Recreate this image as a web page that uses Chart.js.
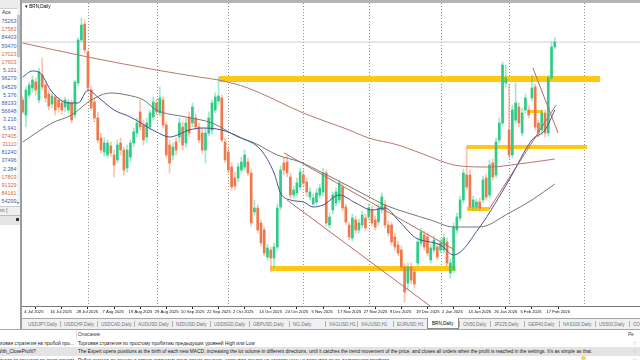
<!DOCTYPE html>
<html>
<head>
<meta charset="utf-8">
<title>BRN,Daily</title>
<script src="https://cdn.jsdelivr.net/npm/chart.js@4.4.1/dist/chart.umd.min.js"></script>
<style>
  body { margin:0; width:640px; height:360px; overflow:hidden; position:relative; background:#f0f0f0; font-family:"Liberation Sans", Arial, sans-serif; color:#222; }
  .a { position:absolute; white-space:nowrap; }
  #mw { left:0; top:0; width:20px; height:329px; background:#fff; overflow:hidden; font-size:5.4px; }
  #split { left:20px; top:0; width:2px; height:329px; background:#9c9c9c; }
  #frame { left:22px; top:0; width:618px; height:3px; background:#b4b4b4; }
  #chartBox { left:22px; top:3px; width:618px; height:315px; background:#fff; }
  #tabs { left:22px; top:318px; width:618px; height:11px; background:#f0f0f0; border-top:1px solid #a8a8a8; box-sizing:border-box; font-size:4.6px; color:#6a7584; }
  #panel { left:0; top:329px; width:640px; height:31px; background:#fff; border-top:1px solid #a8a8a8; box-sizing:border-box; font-size:4.85px; overflow:hidden; }
</style>
</head>
<body>
<div id="mw" class="a"></div>
<div id="split" class="a"></div>
<div id="frame" class="a"></div>
<div id="chartBox" class="a">
  <canvas id="chart" width="618" height="315"></canvas>
  <div class="a" style="left:3px;top:1px;font-size:4.6px;color:#000;">&#9662; BRN,Daily</div>
</div>
<div id="tabs" class="a"></div>
<div id="panel" class="a"></div>

<script>
// ---- chart data (BRN, Daily) ----
var dates = ['4 Jul 2025', '16 Jul 2025', '28 Jul 2025', '7 Aug 2025', '19 Aug 2025', '29 Aug 2025', '10 Sep 2025',
    '22 Sep 2025', '2 Oct 2025', '14 Oct 2025', '24 Oct 2025', '5 Nov 2025', '17 Nov 2025', '27 Nov 2025',
    '9 Dec 2025', '19 Dec 2025', '2 Jan 2026', '14 Jan 2026', '26 Jan 2026', '5 Feb 2026', '17 Feb 2026'];
var dateBars = [0, 8, 16, 24, 32, 40, 48, 56, 64, 72, 80, 88, 96, 104, 112, 120, 128, 136, 144, 152, 160];
var monthBars = [20, 41, 63, 86, 106, 128, 149, 172];

var opens = [69.50,68.75,69.75,70.10,70.40,69.50,70.75,70.25,69.80,69.30,69.65,69.50,69.35,69.15,69.00,69.35,68.75,70.35,72.50,73.30,
    71.90,70.00,69.40,68.60,67.60,66.90,66.75,67.20,66.75,66.50,67.35,67.00,66.10,66.65,67.35,67.85,68.90,68.25,67.65,68.15,
    68.65,69.35,68.85,69.50,68.25,67.25,66.75,67.40,67.65,68.15,67.35,68.65,68.35,68.60,68.15,67.85,67.00,67.85,68.00,69.00,
    69.45,69.60,67.40,66.90,66.15,65.60,65.60,66.00,66.15,66.40,65.85,63.90,64.10,63.35,63.00,61.65,62.00,61.60,62.15,64.15,
    66.35,66.40,65.65,64.75,64.85,65.15,65.75,65.40,64.65,64.30,64.40,64.75,64.90,65.85,63.25,64.00,64.35,64.50,65.15,64.15,
    63.25,62.60,63.50,63.00,63.25,63.60,63.65,64.00,63.50,63.40,64.00,64.25,63.25,63.25,62.65,62.25,62.00,61.15,60.35,61.15,
    60.90,61.35,62.35,62.75,62.65,61.50,62.00,62.15,62.00,62.00,62.40,60.85,61.00,63.00,63.60,64.50,65.75,65.75,64.15,64.15,
    64.40,64.50,65.60,64.75,66.35,65.75,67.50,68.35,70.35,68.00,66.75,68.50,69.15,67.85,69.00,69.00,69.60,70.15,68.35,68.00,
    68.85,67.85,70.60,72.15];
var highs = [69.65,70.15,70.40,70.70,70.60,71.10,71.60,70.40,70.00,69.85,69.75,69.60,69.50,69.65,69.55,69.50,70.50,72.60,73.60,73.50,
    72.00,70.20,69.60,68.90,67.85,67.60,67.50,67.40,67.00,67.50,67.60,67.15,67.25,67.50,68.10,68.60,69.50,68.50,68.60,69.00,
    69.65,69.55,70.15,69.65,68.40,67.50,67.35,67.65,68.60,68.40,68.60,68.90,69.35,68.80,68.35,68.10,68.10,68.90,69.50,69.85,
    70.65,69.75,67.60,67.10,66.40,65.90,66.35,66.65,67.00,66.60,66.00,64.50,64.25,63.50,63.15,62.30,62.15,62.35,64.30,66.20,
    66.60,66.70,65.85,65.20,65.60,66.10,66.00,65.60,65.10,64.80,65.05,65.30,66.10,66.00,63.85,64.90,65.10,65.50,65.35,64.30,
    63.40,63.80,63.70,63.55,63.95,63.80,64.30,64.20,63.70,64.30,64.85,64.50,63.45,63.40,62.85,62.45,62.20,61.30,61.35,61.35,
    61.10,62.60,63.10,62.95,62.85,62.30,62.70,62.35,62.55,62.80,62.60,61.55,63.35,63.85,64.70,66.05,67.20,66.00,64.70,64.55,
    64.60,65.70,65.80,66.50,66.55,67.60,68.60,71.40,71.25,70.30,69.25,70.35,69.35,69.10,69.80,69.20,70.75,70.30,68.50,69.00,
    69.00,70.75,72.40,72.65];
var lows = [68.80,68.15,69.60,69.90,69.75,69.35,70.00,69.40,69.00,69.10,68.75,68.90,68.80,68.90,68.85,68.35,68.60,70.20,72.40,71.85,
    69.90,69.00,68.40,67.35,66.85,66.70,66.60,66.65,65.65,66.35,66.75,65.75,65.90,66.40,67.15,67.65,68.00,67.25,67.40,68.00,
    68.50,68.75,68.70,68.10,66.60,65.85,66.50,66.75,67.40,67.00,67.15,67.65,68.15,68.00,67.35,66.85,66.35,67.70,67.80,68.85,
    69.30,67.40,66.35,65.85,65.00,65.00,65.40,65.85,66.00,65.70,63.20,63.75,62.85,62.20,61.70,61.50,60.90,61.10,62.00,64.00,
    65.75,65.65,64.60,64.60,64.70,65.00,65.15,64.70,64.50,64.20,64.25,64.60,64.70,63.20,63.10,63.80,64.20,64.35,63.95,63.25,
    62.50,62.45,62.85,62.85,63.10,62.95,63.50,63.20,63.00,63.25,63.85,63.10,62.70,62.25,62.00,61.70,61.00,59.40,60.00,60.30,
    60.10,61.20,62.20,62.00,61.70,61.35,61.85,61.50,61.85,61.85,61.20,60.60,60.85,62.85,63.45,64.35,65.00,64.00,63.95,64.00,
    63.95,64.35,64.50,64.60,65.50,65.60,67.35,68.20,70.15,66.60,66.60,68.35,68.15,67.70,68.85,68.60,69.45,68.00,67.65,67.75,
    67.65,67.70,70.50,72.05];
var closes = [68.90,70.00,70.25,70.50,70.00,70.90,70.15,69.60,69.20,69.70,69.00,69.15,69.00,69.50,69.40,68.50,70.40,72.50,73.25,72.00,
    70.10,69.10,68.60,67.50,67.00,67.35,67.35,66.85,66.25,67.25,67.00,66.00,67.00,67.35,67.90,68.35,68.15,67.50,68.35,68.85,
    69.40,68.90,69.60,68.25,66.75,66.35,67.15,67.00,68.35,67.25,68.35,67.85,69.15,68.15,67.50,67.00,67.85,68.60,69.35,69.65,
    69.70,67.50,66.50,66.00,65.15,65.20,66.15,66.40,66.75,65.85,63.35,64.10,63.00,62.35,61.85,62.10,61.60,62.15,64.10,66.00,
    66.00,65.85,64.75,65.00,65.35,65.90,65.35,64.90,64.90,64.60,64.85,65.10,65.85,63.35,63.65,64.75,64.90,65.35,64.10,63.40,
    62.65,63.60,63.00,63.35,63.75,63.10,64.10,63.35,63.15,64.10,64.65,63.25,62.85,62.40,62.15,61.85,61.15,59.90,61.15,60.50,
    60.30,62.40,62.90,62.15,61.85,62.10,62.50,61.65,62.35,62.60,61.35,61.35,63.15,63.65,64.50,65.85,65.15,64.15,64.50,64.40,
    64.10,65.50,64.65,66.25,65.65,67.40,68.35,71.25,70.60,66.75,69.00,69.35,68.35,68.85,69.60,68.75,70.10,68.15,67.85,68.85,
    67.85,70.60,72.15,72.40];

// moving averages, read at sample bars
var maSlowBars = [0, 20, 41, 54, 60, 69, 86, 100, 106, 115, 121, 134, 143, 152, 163];
var maSlow = [72.35, 71.65, 71.0, 70.65, 70.5, 70.1, 68.85, 68.0, 67.6, 67.25, 66.9, 66.2, 66.15, 66.3, 66.55];
var maFastBars = [0, 3, 5, 9, 14, 17, 20, 23, 28, 33, 41, 45, 51, 55, 61, 67, 73, 77, 79, 82, 86, 89, 92, 97,
    102, 107, 111, 115, 120, 122, 128, 132, 140, 149, 156, 160, 163];
var maFast = [70.65, 70.95, 70.9, 69.9, 69.35, 69.35, 70.0, 69.65, 69.0, 68.65, 67.9, 67.65, 68.0, 68.1, 68.0, 67.6,
    67.0, 65.85, 64.85, 64.5, 64.4, 64.15, 64.25, 64.75, 64.35, 64.0, 64.1, 63.5, 62.65, 62.5, 62.25, 61.75, 63.15,
    65.5, 67.5, 68.0, 69.0];
var maMidBars = [0, 9, 15, 21, 27, 32, 37, 41, 50, 58, 66, 71, 78, 85, 92, 98, 105, 111, 118, 125, 132, 140, 149, 156, 163];
var maMid = [67.4, 68.35, 68.75, 69.5, 69.85, 69.75, 69.5, 69.0, 68.65, 68.35, 67.65, 67.35, 66.75, 66.4, 65.85,
    65.35, 64.75, 64.25, 63.85, 63.5, 63.15, 63.15, 63.85, 64.5, 65.3];

// drawn objects: [fromBar, toBar, upper price, lower price]
var zones = [[60.2, 176.9, 70.7, 70.4], [136.1, 172.9, 67.25, 67.05], [136.1, 142.9, 64.15, 63.95],
    [76, 132.7, 61.2, 60.95], [154.8, 159.4, 69.0, 68.85]];
// trend lines: [bar1, price1, bar2, price2]
var trendLines = [[80.1, 66.85, 132.4, 62.0], [81, 64.5, 124.8, 59.2], [142.9, 64.05, 163.4, 69.25], [156.3, 71.1, 164, 67.85]];

var UP = '#2fcb88', DOWN = '#f0794c';

// ---- surrounding terminal text ----
var mwRows = [['75263','b'],['17583','r'],['84403','b'],['59470','b'],['17023','r'],['17603','r'],['5.101','b'],['96279','b'],
    ['64529','b'],['5.376','b'],['88193','b'],['56648','b'],['3.216','b'],['5.941','b'],['37405','r'],['31110','r'],
    ['81240','b'],['37496','b'],['2.384','b'],['17803','r'],['91329','r'],['84161','r'],['54299','b']];
var tabs = [['USDJPY,Daily',28],['USDCHF,Daily',64],['USDCAD,Daily',101],['AUDUSD,Daily',138],['NZDUSD,Daily',176],
    ['USDSGD,Daily',214],['GBPUSD,Daily',253],['NG,Daily',293],['XAGUSD,H1',329],['XAUUSD,H1',361],['EURUSD,H1',397],
    ['BRN,Daily',432],['CN50,Daily',463],['JP225,Daily',494],['GER40,Daily',528],['NAS100,Daily',563],['US500,Daily',599],['CO',633]];

function buildPanels() {
    var mw = document.getElementById('mw');
    var h = '<div class="a" style="left:0;top:0;width:20px;height:8px;background:#ececec;border-bottom:1px solid #d0d0d0"></div>';
    h += '<div class="a" style="left:2px;top:9px;color:#333">Аск</div>';
    h += '<div class="a" style="left:17px;top:8px;width:3px;height:197px;background:#f2f2f2"></div>';
    h += '<div class="a" style="left:17px;top:15px;width:3px;height:42px;background:#c6c6c6"></div>';
    for (var i = 0; i < mwRows.length; i++) {
        var c = mwRows[i][1] === 'b' ? '#3d62ad' : '#d2693f';
        h += '<div class="a" style="right:3.5px;top:' + (18 + i * 8.2) + 'px;color:' + c + '">' + mwRows[i][0] + '</div>';
    }
    h += '<div class="a" style="left:16.5px;top:200px;font-size:4px;color:#555">&#9662;</div>';
    h += '<div class="a" style="left:0;top:206px;width:20px;height:8px;background:#f0f0f0;border-top:1px solid #ccc"></div>';
    h += '<div class="a" style="left:0;top:207px;color:#555">m |</div>';
    h += '<div class="a" style="left:0;top:215px;width:20px;height:9px;background:#e4e4e4;border-top:1px solid #bbb"></div>';
    h += '<div class="a" style="left:16px;top:218px;width:3px;height:3px;background:#333"></div>';
    mw.innerHTML = h;

    var t = document.getElementById('tabs');
    var th = '';
    for (var j = 0; j < tabs.length; j++) {
        var x = tabs[j][1] - 22;
        if (j > 0) th += '<div class="a" style="left:' + (x - 4) + 'px;top:2px;width:1px;height:6px;background:#b0b0b0"></div>';
        if (tabs[j][0] === 'BRN,Daily') {
            th += '<div class="a" style="left:' + (x - 5) + 'px;top:-1px;width:30px;height:10px;background:#fff;border:1px solid #8a8a8a;border-top:none"></div>';
            th += '<div class="a" style="left:' + x + 'px;top:2px;color:#000">' + tabs[j][0] + '</div>';
        } else {
            th += '<div class="a" style="left:' + x + 'px;top:2.5px">' + tabs[j][0] + '</div>';
        }
    }
    t.innerHTML = th;

    var p = document.getElementById('panel');
    var ph = '';
    ph += '<div class="a" style="left:76px;top:0;width:1px;height:9px;background:#e0e0e0"></div>';
    ph += '<div class="a" style="left:78px;top:2px;color:#444">Описание</div>';
    ph += '<div class="a" style="left:628px;top:2px;color:#444">Ре</div>';
    ph += '<div class="a" style="left:0;top:17px;width:640px;height:8.5px;background:#e4e4e4"></div>';
    var left = ['Торговая стратегия на пробой про...', 'With_CloseProfit?', 'Стратегия за трендом по скользящим'];
    var right = ['Торговая стратегия по простому пробитию предыдущих уровней High или Low',
        'The Expert opens positions at the birth of each new MACD, increasing the lot volume in different directions, until it catches the trend movement of the price, and closes all orders when the profit is reached in the settings. It\'s as simple as that.',
        'Робот торгует по тренду с использованием скользящих средних, открывая сделки на откатах цены и закрывая их по достижении профита'];
    var ys = [10.5, 19, 27.5];
    for (var k = 0; k < 3; k++) {
        ph += '<div class="a" style="left:0;top:' + ys[k] + 'px;width:75px;height:7px;overflow:hidden">' +
              '<div class="a" style="' + (k === 1 ? 'left:-3px' : 'right:1px') + ';top:0">' + left[k] + '</div></div>';
        ph += '<div class="a" style="left:78px;top:' + ys[k] + 'px">' + right[k] + '</div>';
        ph += '<div class="a" style="left:632px;top:' + (ys[k] - 1) + 'px;font-size:5.5px;color:#b8b8b8;font-family:\'DejaVu Sans\'">&#9734;</div>';
    }
    ph += '<div class="a" style="left:581px;top:26px;width:5px;height:4px;border-radius:50%;background:#f6d54a"></div>';
    p.innerHTML = ph;
}

// period separators and rectangles drawn through the scales
var objectsPlugin = {
    id: 'objects',
    beforeDatasetsDraw: function(chart) {
        var ctx = chart.ctx, a = chart.chartArea, xs = chart.scales.x, ys = chart.scales.y;
        ctx.save();
        ctx.beginPath();
        ctx.rect(a.left, a.top, a.right - a.left, a.bottom - a.top);
        ctx.clip();
        ctx.strokeStyle = '#8e8e8e';
        ctx.lineWidth = 1;
        ctx.setLineDash([1, 2]);
        monthBars.forEach(function(b) {
            var px = Math.round(xs.getPixelForValue(b)) + 0.5;
            ctx.beginPath();
            ctx.moveTo(px, a.top);
            ctx.lineTo(px, a.bottom);
            ctx.stroke();
        });
        ctx.setLineDash([]);
        ctx.fillStyle = '#ffc812';
        zones.forEach(function(z) {
            var x0 = xs.getPixelForValue(z[0]), x1 = xs.getPixelForValue(z[1]);
            var y0 = ys.getPixelForValue(z[2]), y1 = ys.getPixelForValue(z[3]);
            ctx.fillRect(x0, y0, x1 - x0, y1 - y0);
        });
        ctx.restore();
    }
};

function pts(bars, vals) {
    return bars.map(function(b, i) { return {x: b, y: vals[i]}; });
}

function displayChart() {
    var ctx = document.getElementById('chart').getContext('2d');
    var wicks = [], bodies = [];
    for (var i = 0; i < opens.length; i++) {
        wicks.push({x: i, y: [lows[i], highs[i]]});
        bodies.push({x: i, y: [opens[i], closes[i]]});
    }
    var candleColor = function(alpha) {
        return function(c) {
            var up = closes[c.dataIndex] >= opens[c.dataIndex];
            return alpha ? (up ? 'rgba(47,203,136,0.45)' : 'rgba(240,121,76,0.45)') : (up ? UP : DOWN);
        };
    };
    var datasets = [
        {type: 'line', data: pts(maSlowBars, maSlow), borderColor: '#b8776c', order: 0},
        {type: 'line', data: pts(maFastBars, maFast), borderColor: '#44548f', order: 0},
        {type: 'line', data: pts(maMidBars, maMid), borderColor: '#6f7a70', order: 0}
    ];
    trendLines.forEach(function(t) {
        datasets.push({type: 'line', data: [{x: t[0], y: t[1]}, {x: t[2], y: t[3]}], borderColor: '#b86a60', tension: 0, order: 0});
    });
    datasets.push({type: 'bar', data: bodies, backgroundColor: candleColor(false), barThickness: 2, grouped: false, order: 1});
    datasets.push({type: 'bar', data: wicks, backgroundColor: candleColor(true), barThickness: 1, grouped: false, order: 2});
    datasets.push({type: 'line', data: [{x: -0.2, y: closes[closes.length - 1]}, {x: 189.1, y: closes[closes.length - 1]}],
        borderColor: '#cfcfcf', tension: 0, order: 3});

    new Chart(ctx, {
        type: 'bar',
        data: {datasets: datasets},
        options: {
            responsive: false,
            animation: false,
            devicePixelRatio: 1,
            events: [],
            layout: {padding: 0},
            elements: {
                line: {borderWidth: 1, tension: 0.4, cubicInterpolationMode: 'monotone'},
                point: {radius: 0}
            },
            plugins: {legend: {display: false}, tooltip: {enabled: false}},
            scales: {
                x: {
                    type: 'linear',
                    min: -0.2,
                    max: 189.1,
                    offset: false,
                    afterBuildTicks: function(s) { s.ticks = dateBars.map(function(v) { return {value: v}; }); },
                    afterFit: function(s) { s.height = 12; },
                    grid: {drawOnChartArea: false, drawTicks: true, tickLength: 3, color: '#222'},
                    border: {display: true, color: '#7a7a7a'},
                    ticks: {
                        autoSkip: false,
                        maxRotation: 0,
                        minRotation: 0,
                        align: 'start',
                        labelOffset: 1.5,
                        padding: 0,
                        color: '#111',
                        font: {size: 4.2, family: 'Liberation Sans'},
                        callback: function(v) { var k = dateBars.indexOf(v); return k < 0 ? '' : dates[k]; }
                    }
                },
                y: {display: false, min: 59.2, max: 74.35}
            }
        },
        plugins: [objectsPlugin]
    });
}

window.onload = function() {
    buildPanels();
    displayChart();
};
</script>
</body>
</html>
